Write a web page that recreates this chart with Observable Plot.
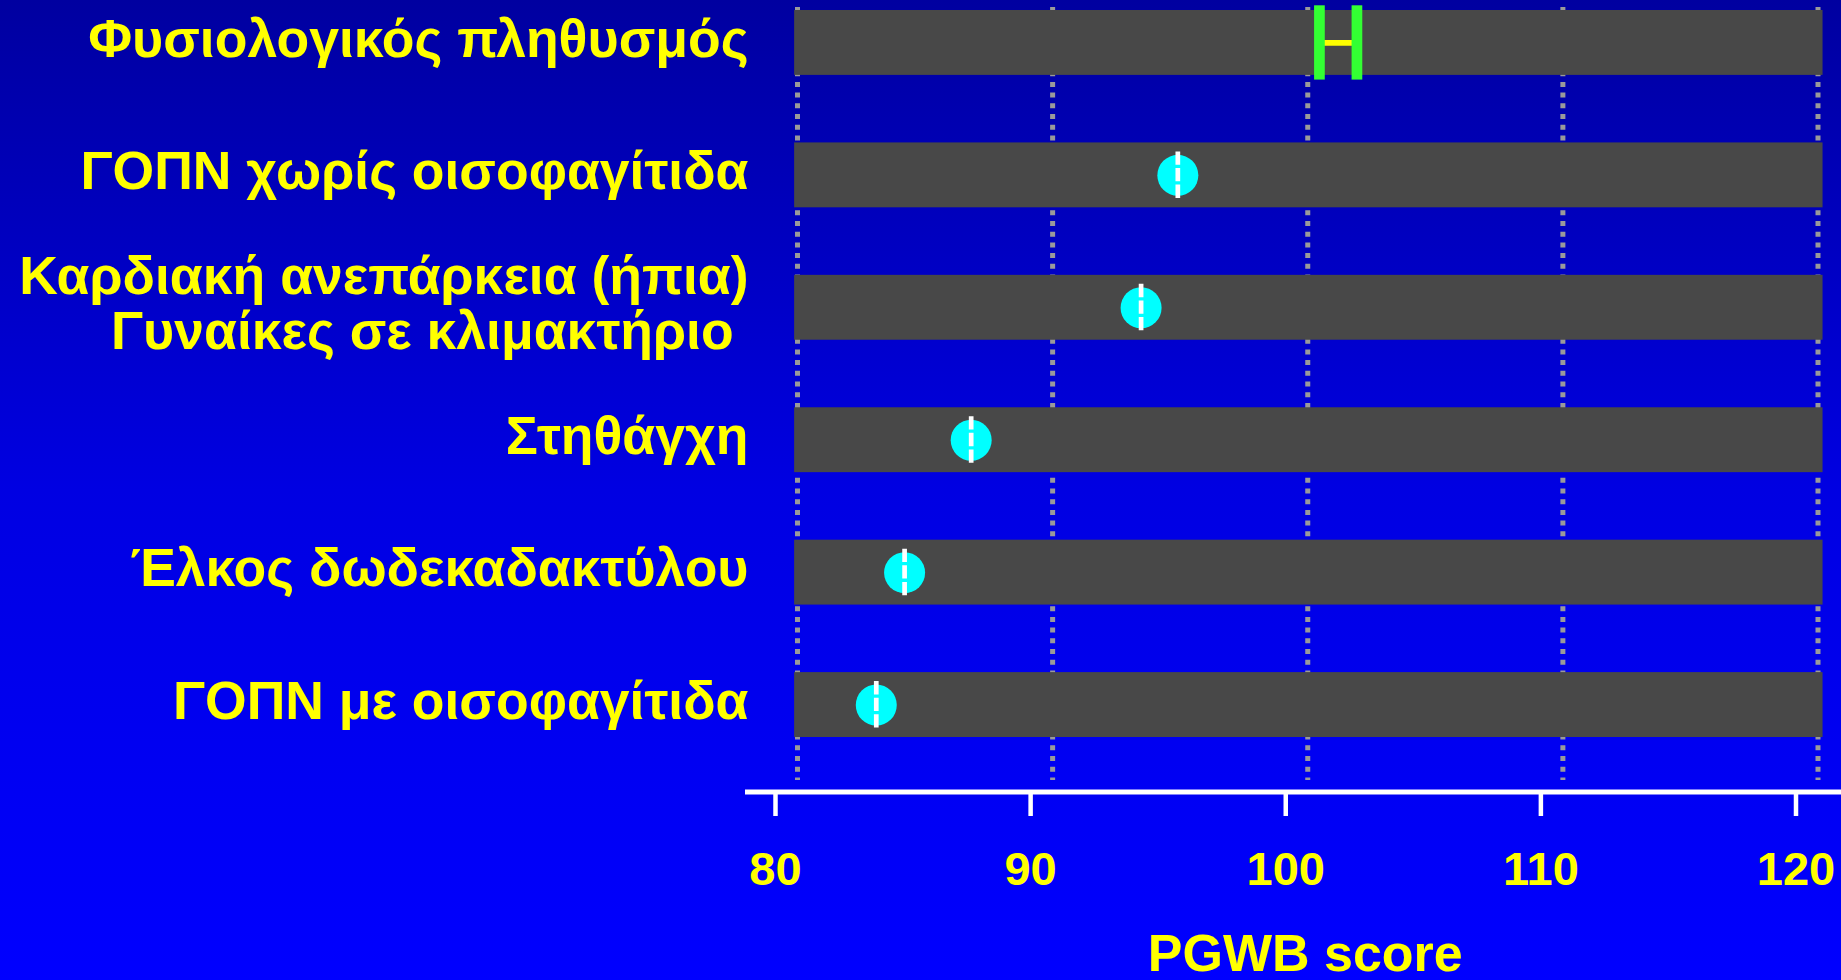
<!DOCTYPE html>
<html>
<head>
<meta charset="utf-8">
<script src="https://cdn.jsdelivr.net/npm/d3@7"></script>
<script src="https://cdn.jsdelivr.net/npm/@observablehq/plot@0.6"></script>
<style>
html, body { margin: 0; padding: 0; }
body {
  width: 1841px; height: 980px; overflow: hidden;
  background: linear-gradient(to bottom, #0000a0 0%, #0000e2 50%, #0000ff 100%);
}
</style>
</head>
<body>
<div id="chart"></div>
<script>
// ---- data ----
const categories = [
  "Φυσιολογικός πληθυσμός",
  "ΓΟΠΝ χωρίς οισοφαγίτιδα",
  "Καρδιακή ανεπάρκεια (ήπια)\nΓυναίκες σε κλιμακτήριο\u00a0",
  "Στηθάγχη",
  "Έλκος δωδεκαδακτύλου",
  "ΓΟΠΝ με οισοφαγίτιδα"
];
const meanScores = [null, 95.77, 94.33, 87.67, 85.06, 83.95];
const ciCategories = ["Φυσιολογικός πληθυσμός"];
const ciLow = [101.32];
const ciHigh = [102.79];
const xTicks = [80, 90, 100, 110, 120];
const trackRange = [80.75, 121.06];
const xLabel = "PGWB score";

// ---- derived tables ----
const tracks = categories.map(c => ({cat: c, x1: trackRange[0], x2: trackRange[1]}));
const points = categories.map((c, i) => ({cat: c, v: meanScores[i]})).filter(d => d.v != null);
const cis = ciCategories.map((c, i) => ({cat: c, lo: ciLow[i], hi: ciHigh[i]}));
const ciEnds = cis.flatMap(d => [{cat: d.cat, v: d.lo}, {cat: d.cat, v: d.hi}]);

const YELLOW = "#ffff00";
const FONT = "'Liberation Sans', Arial, Helvetica, sans-serif";

const chart = Plot.plot({
  width: 1841,
  height: 980,
  marginLeft: 775,
  marginRight: 45.5,
  marginTop: 7,
  marginBottom: 186,
  style: {background: "transparent", overflow: "visible", fontFamily: FONT},
  x: {domain: [80, 120], axis: null},
  y: {type: "band", domain: categories, range: [10, 737], paddingInner: 0.51, paddingOuter: 0, round: false, axis: null},
  marks: [
    // dotted vertical gridlines
    Plot.ruleX(xTicks, {x: d => d, dx: 22, stroke: "#9a9a9a", strokeWidth: 5, strokeDasharray: "5,5.7", insetBottom: 14}),
    // grey tracks
    Plot.barX(tracks, {y: "cat", x1: "x1", x2: "x2", fill: "#484848"}),
    // CI connector
    Plot.ruleY(cis, {y: "cat", x1: "lo", x2: "hi", stroke: YELLOW, strokeWidth: 5.7}),
    // CI ends
    Plot.ruleX(ciEnds, {x: "v", y1: "cat", y2: "cat", stroke: "#33ff33", strokeWidth: 10.7, insetTop: -4.7, insetBottom: -4.7}),
    // mean points
    Plot.dot(points, {x: "v", y: "cat", r: 20.5, fill: "#00ffff", stroke: null}),
    Plot.ruleX(points, {x: "v", y1: "cat", y2: "cat", stroke: "white", strokeWidth: 4.7, strokeDasharray: "13.3,3.3", insetTop: 9, insetBottom: 9}),
    // category labels
    Plot.text(categories, {
      y: d => d, text: d => d, frameAnchor: "left", dx: -27, dy: -4,
      textAnchor: "end", fill: YELLOW, fontSize: 53.5, fontWeight: "bold",
      lineHeight: 1.03, fontFamily: FONT
    }),
    // axis line
    Plot.frame({anchor: "bottom", stroke: "white", strokeWidth: 5, insetLeft: -28, insetRight: -46, insetBottom: 2.5}),
    // x axis ticks + labels
    Plot.axisX(xTicks, {
      anchor: "bottom", tickSize: 22, tickPadding: 35, stroke: "white", strokeWidth: 4.5,
      fill: YELLOW, fontSize: 47, fontWeight: "bold", fontFamily: FONT, label: null,
      tickFormat: d => String(d)
    }),
    // x axis title
    Plot.text([xLabel], {
      text: d => d, frameAnchor: "bottom", dx: 19.5, dy: 176, lineAnchor: "bottom",
      fill: YELLOW, fontSize: 52, fontWeight: "bold", fontFamily: FONT
    })
  ]
});
document.getElementById("chart").appendChild(chart);
</script>
</body>
</html>
